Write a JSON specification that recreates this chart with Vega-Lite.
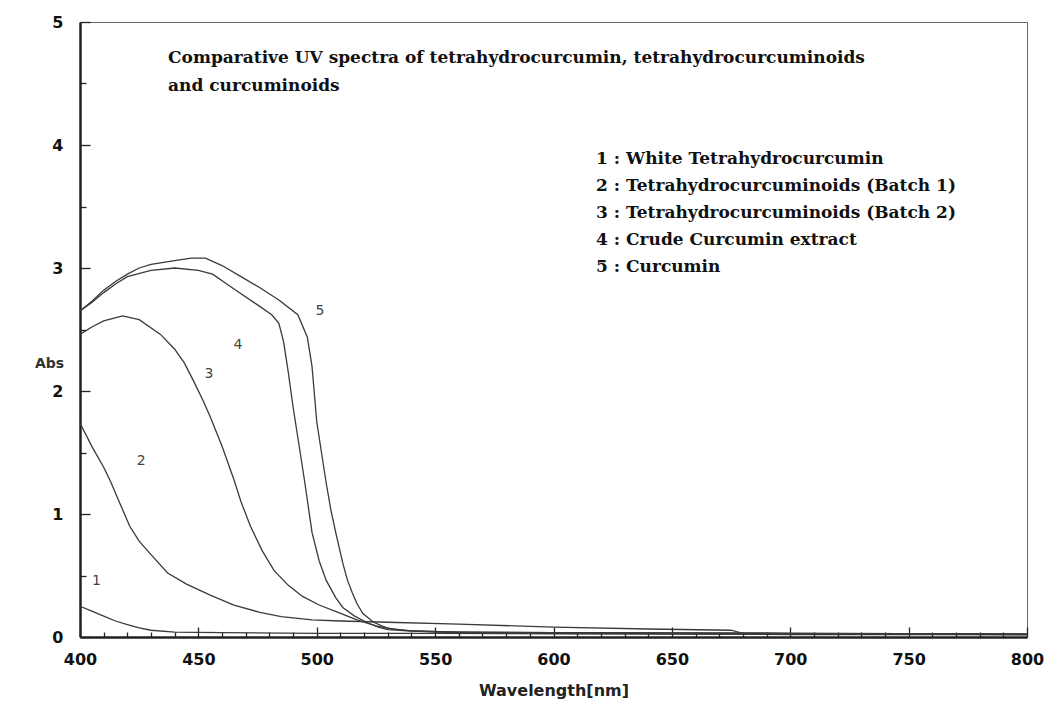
{
  "$schema": "https://vega.github.io/schema/vega-lite/v6.json",
  "width": 947,
  "height": 615,
  "autosize": {"type": "none"},
  "padding": {"left": 80, "top": 22, "right": 17, "bottom": 74},
  "background": "white",
  "config": {
    "view": {"stroke": "#666", "strokeWidth": 1},
    "axis": {"grid": false}
  },
  "datasets": {
    "spectra": [
      {"series": "1", "wl": 400, "abs": 0.25}, {"series": "1", "wl": 405, "abs": 0.21}, {"series": "1", "wl": 410, "abs": 0.17}, {"series": "1", "wl": 415, "abs": 0.13}, {"series": "1", "wl": 420, "abs": 0.1}, {"series": "1", "wl": 425, "abs": 0.075}, {"series": "1", "wl": 430, "abs": 0.055}, {"series": "1", "wl": 440, "abs": 0.04}, {"series": "1", "wl": 460, "abs": 0.035}, {"series": "1", "wl": 500, "abs": 0.03}, {"series": "1", "wl": 550, "abs": 0.03}, {"series": "1", "wl": 600, "abs": 0.025}, {"series": "1", "wl": 700, "abs": 0.02}, {"series": "1", "wl": 800, "abs": 0.02},

      {"series": "2", "wl": 400, "abs": 1.74}, {"series": "2", "wl": 405, "abs": 1.55}, {"series": "2", "wl": 410, "abs": 1.38}, {"series": "2", "wl": 413, "abs": 1.26}, {"series": "2", "wl": 417, "abs": 1.08}, {"series": "2", "wl": 421, "abs": 0.9}, {"series": "2", "wl": 425, "abs": 0.78}, {"series": "2", "wl": 430, "abs": 0.67}, {"series": "2", "wl": 437, "abs": 0.52}, {"series": "2", "wl": 445, "abs": 0.43}, {"series": "2", "wl": 455, "abs": 0.34}, {"series": "2", "wl": 465, "abs": 0.26}, {"series": "2", "wl": 476, "abs": 0.2}, {"series": "2", "wl": 485, "abs": 0.165}, {"series": "2", "wl": 498, "abs": 0.14}, {"series": "2", "wl": 510, "abs": 0.13}, {"series": "2", "wl": 530, "abs": 0.12}, {"series": "2", "wl": 560, "abs": 0.105}, {"series": "2", "wl": 600, "abs": 0.08}, {"series": "2", "wl": 640, "abs": 0.065}, {"series": "2", "wl": 675, "abs": 0.055}, {"series": "2", "wl": 680, "abs": 0.03}, {"series": "2", "wl": 800, "abs": 0.02},

      {"series": "3", "wl": 400, "abs": 2.46}, {"series": "3", "wl": 405, "abs": 2.52}, {"series": "3", "wl": 410, "abs": 2.57}, {"series": "3", "wl": 418, "abs": 2.61}, {"series": "3", "wl": 425, "abs": 2.58}, {"series": "3", "wl": 434, "abs": 2.46}, {"series": "3", "wl": 440, "abs": 2.34}, {"series": "3", "wl": 444, "abs": 2.23}, {"series": "3", "wl": 448, "abs": 2.08}, {"series": "3", "wl": 452, "abs": 1.92}, {"series": "3", "wl": 455, "abs": 1.79}, {"series": "3", "wl": 460, "abs": 1.55}, {"series": "3", "wl": 465, "abs": 1.28}, {"series": "3", "wl": 468, "abs": 1.1}, {"series": "3", "wl": 472, "abs": 0.9}, {"series": "3", "wl": 477, "abs": 0.7}, {"series": "3", "wl": 482, "abs": 0.54}, {"series": "3", "wl": 488, "abs": 0.42}, {"series": "3", "wl": 494, "abs": 0.33}, {"series": "3", "wl": 501, "abs": 0.26}, {"series": "3", "wl": 509, "abs": 0.2}, {"series": "3", "wl": 517, "abs": 0.14}, {"series": "3", "wl": 525, "abs": 0.09}, {"series": "3", "wl": 535, "abs": 0.055}, {"series": "3", "wl": 550, "abs": 0.04}, {"series": "3", "wl": 600, "abs": 0.03}, {"series": "3", "wl": 700, "abs": 0.025}, {"series": "3", "wl": 800, "abs": 0.02},

      {"series": "4", "wl": 400, "abs": 2.65}, {"series": "4", "wl": 405, "abs": 2.72}, {"series": "4", "wl": 410, "abs": 2.8}, {"series": "4", "wl": 415, "abs": 2.87}, {"series": "4", "wl": 420, "abs": 2.93}, {"series": "4", "wl": 430, "abs": 2.98}, {"series": "4", "wl": 440, "abs": 3.0}, {"series": "4", "wl": 450, "abs": 2.98}, {"series": "4", "wl": 456, "abs": 2.95}, {"series": "4", "wl": 462, "abs": 2.87}, {"series": "4", "wl": 468, "abs": 2.79}, {"series": "4", "wl": 475, "abs": 2.7}, {"series": "4", "wl": 481, "abs": 2.62}, {"series": "4", "wl": 484, "abs": 2.55}, {"series": "4", "wl": 486, "abs": 2.4}, {"series": "4", "wl": 488, "abs": 2.15}, {"series": "4", "wl": 490, "abs": 1.87}, {"series": "4", "wl": 493, "abs": 1.5}, {"series": "4", "wl": 495, "abs": 1.25}, {"series": "4", "wl": 498, "abs": 0.85}, {"series": "4", "wl": 501, "abs": 0.62}, {"series": "4", "wl": 504, "abs": 0.46}, {"series": "4", "wl": 508, "abs": 0.32}, {"series": "4", "wl": 511, "abs": 0.24}, {"series": "4", "wl": 516, "abs": 0.17}, {"series": "4", "wl": 521, "abs": 0.12}, {"series": "4", "wl": 526, "abs": 0.08}, {"series": "4", "wl": 530, "abs": 0.06}, {"series": "4", "wl": 540, "abs": 0.05}, {"series": "4", "wl": 560, "abs": 0.04}, {"series": "4", "wl": 600, "abs": 0.035}, {"series": "4", "wl": 700, "abs": 0.03}, {"series": "4", "wl": 800, "abs": 0.025},

      {"series": "5", "wl": 400, "abs": 2.65}, {"series": "5", "wl": 405, "abs": 2.73}, {"series": "5", "wl": 410, "abs": 2.82}, {"series": "5", "wl": 415, "abs": 2.89}, {"series": "5", "wl": 420, "abs": 2.95}, {"series": "5", "wl": 425, "abs": 3.0}, {"series": "5", "wl": 430, "abs": 3.03}, {"series": "5", "wl": 440, "abs": 3.06}, {"series": "5", "wl": 447, "abs": 3.08}, {"series": "5", "wl": 453, "abs": 3.08}, {"series": "5", "wl": 460, "abs": 3.02}, {"series": "5", "wl": 468, "abs": 2.93}, {"series": "5", "wl": 476, "abs": 2.84}, {"series": "5", "wl": 484, "abs": 2.74}, {"series": "5", "wl": 492, "abs": 2.62}, {"series": "5", "wl": 496, "abs": 2.44}, {"series": "5", "wl": 498, "abs": 2.2}, {"series": "5", "wl": 500, "abs": 1.75}, {"series": "5", "wl": 502, "abs": 1.5}, {"series": "5", "wl": 504, "abs": 1.25}, {"series": "5", "wl": 506, "abs": 1.03}, {"series": "5", "wl": 508, "abs": 0.85}, {"series": "5", "wl": 511, "abs": 0.6}, {"series": "5", "wl": 513, "abs": 0.46}, {"series": "5", "wl": 515, "abs": 0.36}, {"series": "5", "wl": 517, "abs": 0.27}, {"series": "5", "wl": 519.5, "abs": 0.19}, {"series": "5", "wl": 524, "abs": 0.12}, {"series": "5", "wl": 530, "abs": 0.07}, {"series": "5", "wl": 540, "abs": 0.05}, {"series": "5", "wl": 560, "abs": 0.04}, {"series": "5", "wl": 600, "abs": 0.035}, {"series": "5", "wl": 700, "abs": 0.03}, {"series": "5", "wl": 800, "abs": 0.025}
    ],
    "curveLabels": [
      {"label": "1", "wl": 407, "abs": 0.455},
      {"label": "2", "wl": 425.8, "abs": 1.43},
      {"label": "3", "wl": 454.5, "abs": 2.14},
      {"label": "4", "wl": 466.7, "abs": 2.37},
      {"label": "5", "wl": 501.4, "abs": 2.65}
    ],
    "notes": [
      {"text": "Comparative UV spectra of tetrahydrocurcumin, tetrahydrocurcuminoids", "wl": 437.2, "abs": 4.71},
      {"text": "and curcuminoids", "wl": 437.2, "abs": 4.48},
      {"text": "1 : White Tetrahydrocurcumin", "wl": 618, "abs": 3.89},
      {"text": "2 : Tetrahydrocurcuminoids (Batch 1)", "wl": 618, "abs": 3.67},
      {"text": "3 : Tetrahydrocurcuminoids (Batch 2)", "wl": 618, "abs": 3.45},
      {"text": "4 : Crude Curcumin extract", "wl": 618, "abs": 3.23},
      {"text": "5 : Curcumin", "wl": 618, "abs": 3.01}
    ]
  },
  "resolve": {"axis": {"x": "independent", "y": "independent"}},
  "layer": [
    {
      "data": {"name": "spectra"},
      "mark": {"type": "line", "color": "#3a3a3a", "strokeWidth": 1.3},
      "encoding": {
        "x": {
          "field": "wl", "type": "quantitative",
          "scale": {"domain": [400, 800], "nice": false, "zero": false},
          "axis": {
            "orient": "bottom",
            "title": "Wavelength[nm]",
            "values": [400, 450, 500, 550, 600, 650, 700, 750, 800],
            "format": "d",
            "labelFlush": false,
            "labelOverlap": false,
            "labelFont": "DejaVu Sans",
            "labelFontWeight": "bold",
            "labelFontSize": 16,
            "labelColor": "#111",
            "labelPadding": 24,
            "tickSize": -10,
            "tickColor": "#222",
            "tickWidth": 1.3,
            "domainColor": "#222",
            "domainWidth": 2.5,
            "titleFont": "DejaVu Sans",
            "titleFontWeight": "bold",
            "titleFontSize": 16,
            "titleColor": "#222",
            "titleBaseline": "middle",
            "titleY": 53
          }
        },
        "y": {
          "field": "abs", "type": "quantitative",
          "scale": {"domain": [0, 5], "nice": false},
          "axis": {
            "orient": "left",
            "title": "Abs",
            "values": [0, 1, 2, 3, 4, 5],
            "format": "d",
            "labelOverlap": false,
            "labelFlush": false,
            "labelFont": "DejaVu Sans",
            "labelFontWeight": "bold",
            "labelFontSize": 16,
            "labelColor": "#111",
            "labelPadding": 27,
            "tickSize": -10,
            "tickColor": "#222",
            "tickWidth": 1.3,
            "domainColor": "#222",
            "domainWidth": 2.5,
            "titleAngle": 0,
            "titleFont": "DejaVu Sans",
            "titleFontWeight": "bold",
            "titleFontSize": 14,
            "titleColor": "#333",
            "titleAlign": "center",
            "titleBaseline": "middle",
            "titleX": -31,
            "titleY": 341
          }
        },
        "detail": {"field": "series"}
      }
    },
    {
      "data": {"name": "curveLabels"},
      "mark": {"type": "text", "font": "DejaVu Sans", "fontSize": 14, "color": "#444", "align": "center", "baseline": "middle"},
      "encoding": {
        "x": {
          "field": "wl", "type": "quantitative",
          "axis": {
            "orient": "bottom",
            "title": null,
            "values": [410, 420, 430, 440, 460, 470, 480, 490, 510, 520, 530, 540, 560, 570, 580, 590, 610, 620, 630, 640, 660, 670, 680, 690, 710, 720, 730, 740, 760, 770, 780, 790],
            "labels": false,
            "domain": false,
            "tickSize": -5,
            "tickColor": "#222",
            "tickWidth": 1.3
          }
        },
        "y": {
          "field": "abs", "type": "quantitative",
          "axis": {
            "orient": "left",
            "title": null,
            "values": [0.5, 1.5, 2.5, 3.5, 4.5],
            "labels": false,
            "domain": false,
            "tickSize": -6,
            "tickColor": "#222",
            "tickWidth": 1.3
          }
        },
        "text": {"field": "label"}
      }
    },
    {
      "data": {"name": "notes"},
      "mark": {"type": "text", "font": "DejaVu Serif", "fontWeight": "bold", "fontSize": 17, "color": "#111", "align": "left", "baseline": "middle"},
      "encoding": {
        "x": {"field": "wl", "type": "quantitative", "axis": null},
        "y": {"field": "abs", "type": "quantitative", "axis": null},
        "text": {"field": "text"}
      }
    }
  ]
}
